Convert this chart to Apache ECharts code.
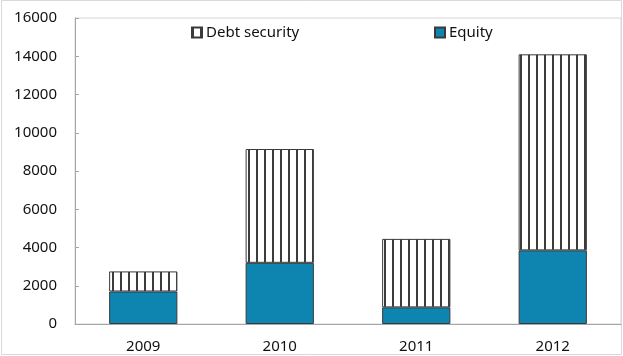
<!DOCTYPE html>
<html>
<head>
<meta charset="utf-8">
<script src="https://cdn.jsdelivr.net/npm/echarts@6/dist/echarts.min.js"></script>
<style>
  html, body { margin: 0; padding: 0; background: #fff; }
  #chart { width: 623px; height: 356px; }
</style>
</head>
<body>
<div id="chart"></div>
<script>
// Yearly amounts split into equity and debt securities
const years = ['2009', '2010', '2011', '2012'];
const equity = [1700, 3200, 870, 3850];
const debtSecurity = [1050, 5950, 3580, 10250];
const yTicks = [0, 2000, 4000, 6000, 8000, 10000, 12000, 14000, 16000];

// Vertical hatch fill for the debt bars
const hatch = document.createElement('canvas');
hatch.width = 8;
hatch.height = 8;
const hctx = hatch.getContext('2d');
hctx.fillStyle = '#ffffff';
hctx.fillRect(0, 0, 8, 8);
hctx.fillStyle = '#3c3c3c';
hctx.fillRect(0, 0, 2, 8);

const font = '"Noto Sans", "Open Sans", sans-serif';
const chart = echarts.init(document.getElementById('chart'), null, { renderer: 'canvas' });

const legendCommon = {
  top: 20, icon: 'rect',
  itemWidth: 10, itemHeight: 10, itemGap: 4,
  textStyle: { fontFamily: font, fontSize: 15, color: '#111', padding: [0, 0, 0, -1] }
};

chart.setOption({
  animation: false,
  backgroundColor: '#ffffff',
  textStyle: { fontFamily: font },
  grid: {
    left: 75, right: 2, top: 18, bottom: 32,
    show: true, borderColor: '#d4d4d4', borderWidth: 1
  },
  legend: [
    Object.assign({ data: ['Debt security'], left: 186 }, legendCommon),
    Object.assign({ data: ['Equity'], left: 429 }, legendCommon)
  ],
  xAxis: {
    type: 'category',
    data: years,
    boundaryGap: true,
    axisLine: { lineStyle: { color: '#a6a6a6', width: 1 } },
    axisTick: { inside: true, length: 5, lineStyle: { color: '#a6a6a6' } },
    axisLabel: { color: '#111', fontSize: 15, margin: 15, fontFamily: font },
    splitLine: { show: false }
  },
  yAxis: {
    type: 'value',
    min: yTicks[0],
    max: yTicks[yTicks.length - 1],
    interval: yTicks[1] - yTicks[0],
    axisLine: { show: true, lineStyle: { color: '#a6a6a6', width: 1 } },
    axisTick: { show: true, inside: true, length: 4, lineStyle: { color: '#a6a6a6' } },
    axisLabel: {
      color: '#111', fontSize: 15, margin: 18, fontFamily: font,
      formatter: v => String(v)
    },
    splitLine: { show: false }
  },
  series: [
    {
      name: 'Equity',
      type: 'bar',
      stack: 'total',
      data: equity,
      barWidth: '50%',
      itemStyle: { color: '#0e84b1', borderColor: '#3a3a3a', borderWidth: 1 }
    },
    {
      name: 'Debt security',
      type: 'bar',
      stack: 'total',
      data: debtSecurity,
      barWidth: '50%',
      itemStyle: {
        color: { image: hatch, repeat: 'repeat' },
        borderColor: '#3a3a3a', borderWidth: 1
      }
    }
  ],
  graphic: [
    {
      type: 'rect',
      shape: { x: 1.5, y: 0.5, width: 620, height: 354 },
      style: { fill: 'none', stroke: '#d9d9d9', lineWidth: 1 },
      silent: true
    }
  ]
});
</script>
</body>
</html>
